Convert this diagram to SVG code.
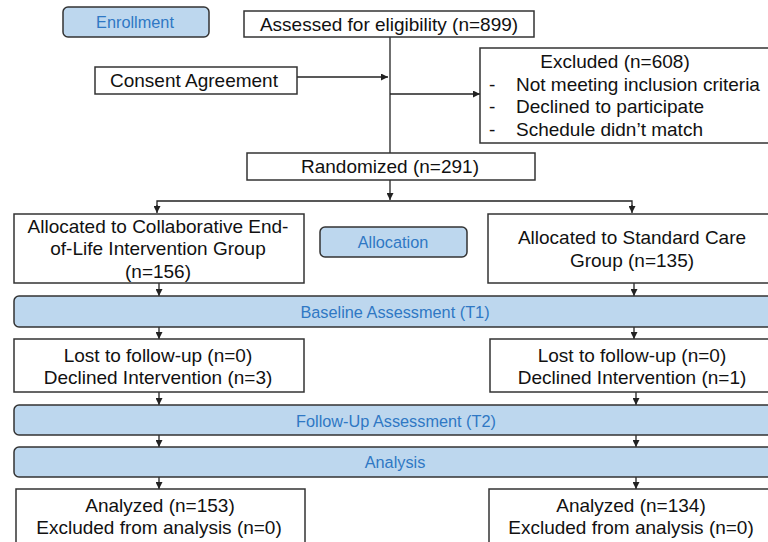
<svg xmlns="http://www.w3.org/2000/svg" width="768" height="542" viewBox="0 0 768 542">
<style>
.box{fill:#fff;stroke:#333;stroke-width:1.5}
.stage{fill:#bdd7ee;stroke:#333;stroke-width:1.5}
.t{font-family:"Liberation Sans",Arial,sans-serif;font-size:19px;fill:#111}
.b{font-family:"Liberation Sans",Arial,sans-serif;font-size:16.3px;fill:#2f78c4}
.c{text-anchor:middle}
.ln{fill:none;stroke:#222;stroke-width:1.3}
</style>
<defs>
<marker id="ah" viewBox="0 0 10 10" refX="10" refY="5" markerWidth="7" markerHeight="7" markerUnits="userSpaceOnUse" orient="auto">
<path d="M0,0 L10,5 L0,10 z" fill="#222"/>
</marker>
</defs>
<rect width="768" height="542" fill="#fff"/>
<g id="connectors">
<path class="ln" d="M390,37 V153"/>
<path class="ln" d="M297,77 H388" marker-end="url(#ah)"/>
<path class="ln" d="M390,94 H480" marker-end="url(#ah)"/>
<path class="ln" d="M390,180 V200" marker-end="url(#ah)"/>
<path class="ln" d="M157,207 V201 H632 V207" />
<path class="ln" d="M157,205 V213" marker-end="url(#ah)"/>
<path class="ln" d="M632,205 V213" marker-end="url(#ah)"/>
<path class="ln" d="M159,283 V296" marker-end="url(#ah)"/>
<path class="ln" d="M634,283 V296" marker-end="url(#ah)"/>
<path class="ln" d="M159,327 V339" marker-end="url(#ah)"/>
<path class="ln" d="M634,327 V339" marker-end="url(#ah)"/>
<path class="ln" d="M159,392 V405" marker-end="url(#ah)"/>
<path class="ln" d="M636,392 V405" marker-end="url(#ah)"/>
<path class="ln" d="M159,435 V447" marker-end="url(#ah)"/>
<path class="ln" d="M636,435 V447" marker-end="url(#ah)"/>
<path class="ln" d="M159,477 V489" marker-end="url(#ah)"/>
<path class="ln" d="M636,477 V489" marker-end="url(#ah)"/>
</g>
<g id="enrollment">
<rect class="stage" x="63" y="7" width="146" height="30" rx="5"/>
<text class="b c" x="135" y="28">Enrollment</text>
</g>
<g id="assessed">
<rect class="box" x="244" y="11" width="290" height="26"/>
<text class="t c" x="389" y="31">Assessed for eligibility (n=899)</text>
</g>
<g id="consent">
<rect class="box" x="95" y="67" width="202" height="27"/>
<text class="t c" x="194" y="87">Consent Agreement</text>
</g>
<g id="excluded">
<rect class="box" x="480" y="48" width="295" height="95"/>
<text class="t c" x="615" y="68">Excluded (n=608)</text>
<text class="t" x="489" y="91">-</text>
<text class="t" x="516" y="91">Not meeting inclusion criteria</text>
<text class="t" x="489" y="113">-</text>
<text class="t" x="516" y="113">Declined to participate</text>
<text class="t" x="489" y="136">-</text>
<text class="t" x="516" y="136">Schedule didn’t match</text>
</g>
<g id="randomized">
<rect class="box" x="247" y="153" width="288" height="27"/>
<text class="t c" x="390" y="173">Randomized (n=291)</text>
</g>
<g id="alloc-left">
<rect class="box" x="14" y="214" width="290" height="69"/>
<text class="t c" x="158" y="233">Allocated to Collaborative End-</text>
<text class="t c" x="158" y="255">of-Life Intervention Group</text>
<text class="t c" x="158" y="278">(n=156)</text>
</g>
<g id="allocation">
<rect class="stage" x="320" y="227" width="147" height="30" rx="5"/>
<text class="b c" x="393" y="248">Allocation</text>
</g>
<g id="alloc-right">
<rect class="box" x="488" y="214" width="287" height="69"/>
<text class="t c" x="632" y="244">Allocated to Standard Care</text>
<text class="t c" x="632" y="267">Group (n=135)</text>
</g>
<g id="baseline">
<rect class="stage" x="14" y="296" width="770" height="31" rx="5"/>
<text class="b c" x="395" y="318">Baseline Assessment (T1)</text>
</g>
<g id="lost-left">
<rect class="box" x="14" y="339" width="290" height="53"/>
<text class="t c" x="158" y="362">Lost to follow-up (n=0)</text>
<text class="t c" x="158" y="384">Declined Intervention (n=3)</text>
</g>
<g id="lost-right">
<rect class="box" x="490" y="339" width="285" height="53"/>
<text class="t c" x="632" y="362">Lost to follow-up (n=0)</text>
<text class="t c" x="632" y="384">Declined Intervention (n=1)</text>
</g>
<g id="followup">
<rect class="stage" x="14" y="405" width="770" height="30" rx="5"/>
<text class="b c" x="396" y="427">Follow-Up Assessment (T2)</text>
</g>
<g id="analysis">
<rect class="stage" x="14" y="447" width="770" height="30" rx="5"/>
<text class="b c" x="395" y="468">Analysis</text>
</g>
<g id="analyzed-left">
<rect class="box" x="16" y="489" width="289" height="60"/>
<text class="t c" x="160" y="512">Analyzed (n=153)</text>
<text class="t c" x="159" y="534">Excluded from analysis (n=0)</text>
</g>
<g id="analyzed-right">
<rect class="box" x="489" y="489" width="286" height="60"/>
<text class="t c" x="631" y="512">Analyzed (n=134)</text>
<text class="t c" x="631" y="534">Excluded from analysis (n=0)</text>
</g>
</svg>
